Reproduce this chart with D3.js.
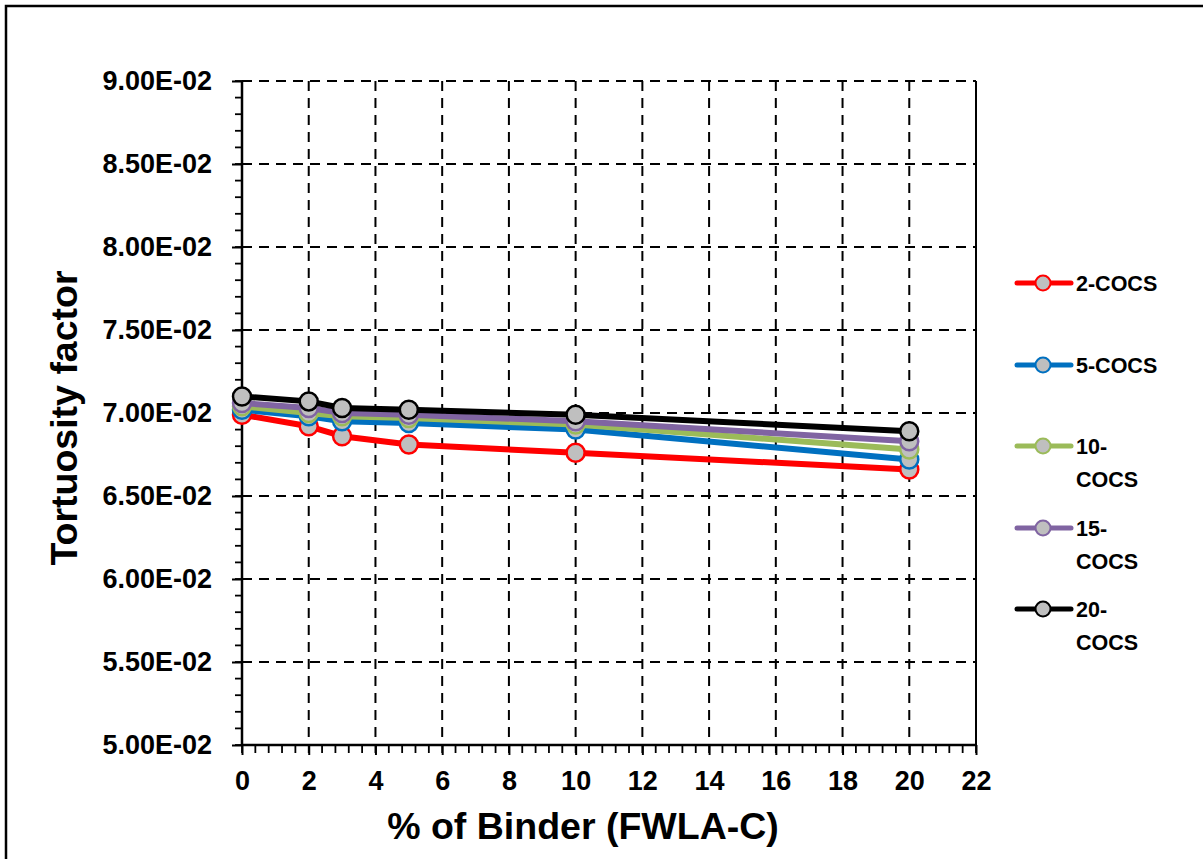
<!DOCTYPE html>
<html>
<head>
<meta charset="utf-8">
<script src="https://cdn.jsdelivr.net/npm/d3@7"></script>
<style>
  body { margin: 0; background: #fff; }
  text { font-family: "Liberation Sans", Arial, sans-serif; font-weight: bold; fill: #000; }
</style>
</head>
<body>
<div id="chart"></div>
<script>
// binder percentages
var binder = [0, 2, 3, 5, 10, 20];

var seriesNames = ["2-COCS", "5-COCS", "10-COCS", "15-COCS", "20-COCS"];
var seriesColors = ["#FF0000", "#0070C0", "#9BBB59", "#8064A2", "#000000"];

var cocs2  = [0.0699, 0.0692, 0.0686, 0.0681, 0.0676, 0.0666];
var cocs5  = [0.0702, 0.0698, 0.0695, 0.0694, 0.0690, 0.0672];
var cocs10 = [0.0704, 0.0700, 0.0698, 0.0697, 0.0693, 0.0678];
var cocs15 = [0.0706, 0.0703, 0.0700, 0.0699, 0.0695, 0.0683];
var cocs20 = [0.0710, 0.0707, 0.0703, 0.0702, 0.0699, 0.0689];

var xTicks = [0, 2, 4, 6, 8, 10, 12, 14, 16, 18, 20, 22];
var yTicks = [0.050, 0.055, 0.060, 0.065, 0.070, 0.075, 0.080, 0.085, 0.090];

var allSeries = [cocs2, cocs5, cocs10, cocs15, cocs20];

var W = 1203, H = 859;
var svg = d3.select("#chart").append("svg").attr("width", W).attr("height", H);

// outer frame (right and bottom edges run off the picture)
svg.append("rect").attr("x", 6).attr("y", 6).attr("width", 1300).attr("height", 1000)
  .attr("fill", "none").attr("stroke", "#000").attr("stroke-width", 2.5);

var x = d3.scaleLinear().domain([0, 22]).range([242, 976]);
var y = d3.scaleLinear().domain([0.05, 0.09]).range([745, 81]);

// grid
svg.append("g").selectAll("line").data(xTicks.filter(function (d) { return d > 0 && d < 22; }))
  .join("line")
  .attr("x1", function (d) { return x(d); }).attr("x2", function (d) { return x(d); })
  .attr("y1", y(0.09)).attr("y2", y(0.05))
  .attr("stroke", "#000").attr("stroke-width", 2).attr("stroke-dasharray", "10,7");
svg.append("g").selectAll("line").data(yTicks.filter(function (d) { return d > 0.0501; }))
  .join("line")
  .attr("x1", x(0)).attr("x2", x(22))
  .attr("y1", function (d) { return y(d); }).attr("y2", function (d) { return y(d); })
  .attr("stroke", "#000").attr("stroke-width", 2).attr("stroke-dasharray", "10,7");

// plot border right
svg.append("line").attr("x1", x(22)).attr("x2", x(22)).attr("y1", y(0.09)).attr("y2", y(0.05))
  .attr("stroke", "#000").attr("stroke-width", 2);

// minor ticks
var xMinor = d3.range(0, 56).map(function (i) { return i * 0.4; });
svg.append("g").selectAll("line").data(xMinor).join("line")
  .attr("x1", function (d) { return x(d); }).attr("x2", function (d) { return x(d); })
  .attr("y1", y(0.05)).attr("y2", y(0.05) + 8)
  .attr("stroke", "#000").attr("stroke-width", 1.8);
var yMinor = d3.range(0, 41).map(function (i) { return 0.05 + i * 0.001; });
svg.append("g").selectAll("line").data(yMinor).join("line")
  .attr("x1", x(0) - 7).attr("x2", x(0))
  .attr("y1", function (d) { return y(d); }).attr("y2", function (d) { return y(d); })
  .attr("stroke", "#000").attr("stroke-width", 1.8);

// axes
function sciFmt(v) {
  var s = v.toExponential(2).split("e");
  var e = +s[1];
  return s[0] + "E" + (e < 0 ? "-" : "+") + String(Math.abs(e)).padStart(2, "0");
}
var yAxis = svg.append("g").attr("transform", "translate(" + x(0) + ",0)")
  .call(d3.axisLeft(y).tickValues(yTicks).tickFormat(sciFmt).tickSize(10).tickPadding(20));
var xAxis = svg.append("g").attr("transform", "translate(0," + y(0.05) + ")")
  .call(d3.axisBottom(x).tickValues(xTicks).tickFormat(d3.format("d")).tickSize(10).tickPadding(16));
[yAxis, xAxis].forEach(function (a) {
  a.select(".domain").attr("stroke-width", 2.5);
  a.selectAll(".tick line").attr("stroke-width", 2);
  a.selectAll("text").style("font-size", "27px").style("font-family", "'Liberation Sans', Arial, sans-serif").style("font-weight", "bold");
});
yAxis.select(".domain").attr("d", "M0," + y(0.09) + "V" + y(0.05));
xAxis.select(".domain").attr("d", "M" + x(0) + ",0H" + x(22));

// axis titles
svg.append("text").attr("transform", "translate(77,418) rotate(-90)")
  .attr("text-anchor", "middle").style("font-size", "37.5px").text("Tortuosity factor");
svg.append("text").attr("x", 583).attr("y", 839)
  .attr("text-anchor", "middle").style("font-size", "37.5px").text("% of Binder (FWLA-C)");

// series
var line = d3.line().x(function (d, i) { return x(binder[i]); }).y(function (d) { return y(d); });
allSeries.forEach(function (vals, k) {
  var g = svg.append("g");
  g.append("path").datum(vals).attr("d", line).attr("fill", "none")
    .attr("stroke", seriesColors[k]).attr("stroke-width", 6).attr("stroke-linejoin", "round");
  g.selectAll("circle").data(vals).join("circle")
    .attr("cx", function (d, i) { return x(binder[i]); }).attr("cy", function (d) { return y(d); })
    .attr("r", 9).attr("fill", "#BFBFBF").attr("stroke", seriesColors[k]).attr("stroke-width", 2.5);
});

// legend
var legendRows = [
  { y: 283, lines: ["2-COCS"] },
  { y: 365, lines: ["5-COCS"] },
  { y: 446, lines: ["10-", "COCS"] },
  { y: 528, lines: ["15-", "COCS"] },
  { y: 609, lines: ["20-", "COCS"] }
];
legendRows.forEach(function (r, k) {
  var g = svg.append("g");
  g.append("line").attr("x1", 1017).attr("x2", 1071).attr("y1", r.y).attr("y2", r.y)
    .attr("stroke", seriesColors[k]).attr("stroke-width", 5).attr("stroke-linecap", "round");
  g.append("circle").attr("cx", 1043).attr("cy", r.y).attr("r", 7.5)
    .attr("fill", "#BFBFBF").attr("stroke", seriesColors[k]).attr("stroke-width", 2);
  r.lines.forEach(function (t, j) {
    g.append("text").attr("x", 1076).attr("y", r.y + 8 + j * 33)
      .style("font-size", "21.5px").text(t);
  });
});
</script>
</body>
</html>
